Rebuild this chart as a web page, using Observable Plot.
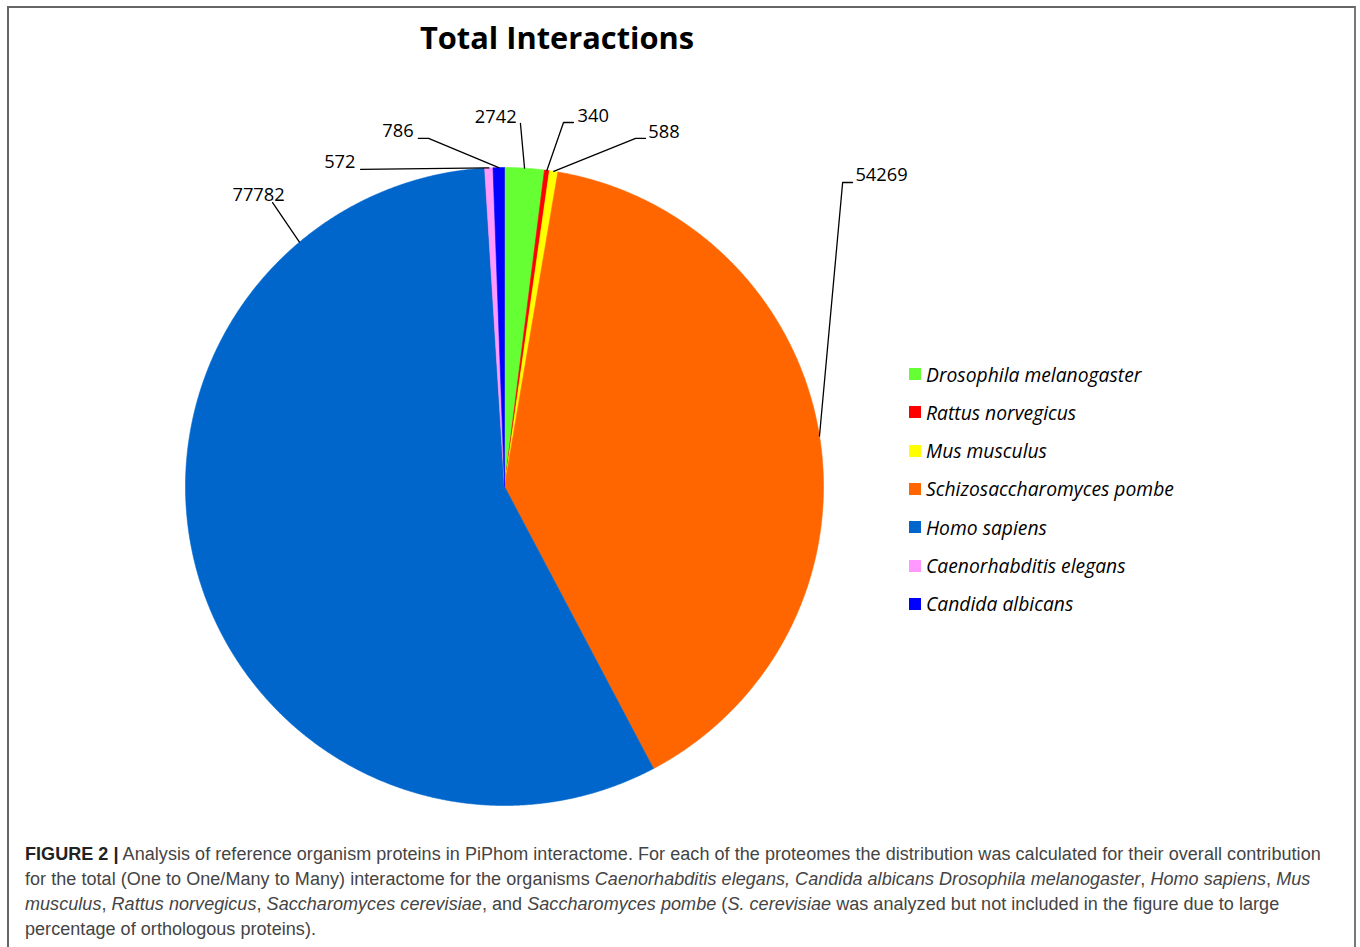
<!DOCTYPE html>
<html>
<head>
<meta charset="utf-8">
<script src="https://cdn.jsdelivr.net/npm/d3@7"></script>
<script src="https://cdn.jsdelivr.net/npm/@observablehq/plot@0.6"></script>
<style>
  html, body { margin: 0; padding: 0; background: #fff; }
  #page { position: relative; width: 1360px; height: 947px; overflow: hidden; background: #fff; }
  #chart { position: absolute; left: 0; top: 0; }
  #frame { position: absolute; left: 7px; top: 6px; width: 1345px; height: 960px;
           border-left: 2px solid #666; border-top: 2px solid #666; border-right: 2px solid #777; pointer-events: none; }
  #title { position: absolute; left: 257px; width: 600px; top: 16px; text-align: center;
           font-family: "Open Sans", sans-serif; font-weight: 700; font-size: 30.8px; color: #000; }
  #legend { position: absolute; left: 909px; top: 361px; font-family: "Open Sans", sans-serif;
            font-style: italic; font-size: 19.3px; color: #000; }
  .lg { position: absolute; left: 0; height: 26px; white-space: nowrap; display: flex; align-items: center; }
  .sw { width: 12px; height: 12px; margin-right: 5px; }
  #caption { position: absolute; left: 25px; top: 842px; width: 1320px; font-family: "Liberation Sans", Arial, sans-serif;
             font-size: 18px; letter-spacing: 0.05px; line-height: 25px; color: #444; white-space: nowrap; }
  #caption b { color: #222; }
</style>
</head>
<body>
<div id="page">
  <div id="chart"></div>
  <div id="title">Total Interactions</div>
  <div id="legend"></div>
  <div id="caption"></div>
  <div id="frame"></div>
</div>
<script>
// ---- data ----
const species = ["Drosophila melanogaster", "Rattus norvegicus", "Mus musculus",
  "Schizosaccharomyces pombe", "Homo sapiens", "Caenorhabditis elegans", "Candida albicans"];
const interactions = [2742, 340, 588, 54269, 77782, 572, 786];
const colors = ["#66FF33", "#FF0000", "#FFFF00", "#FF6600", "#0066CC", "#FF99FF", "#0000FF"];

// ---- label layout (in pie-radius units, centre = 0,0, y up) ----
const labelX = [0.038, 0.229, 0.451, 1.100, -0.771, -0.467, -0.285];
const labelY = [1.157, 1.160, 1.110, 0.975, 0.912, 1.016, 1.113];
const labelAnchor = ["end", "start", "start", "start", "middle", "end", "end"];
const leaderPoints = [
  [[0.050, 1.138]],
  [[0.216, 1.141], [0.185, 1.141]],
  [[0.442, 1.091], [0.411, 1.091]],
  [[1.091, 0.953], [1.060, 0.953]],
  [[-0.727, 0.890]],
  [[-0.451, 0.994]],
  [[-0.270, 1.091], [-0.238, 1.091]]
];
const leaderAngleDeg = [null, null, null, null, 320, null, null];

// ---- geometry layout ----
const W = 1360, H = 830, CX = 504, CY = 486, R = 319;

const arcs = d3.pie().sort(null).value(d => d)(interactions);
const slicePts = arcs.flatMap((a, i) => {
  const s = species[i];
  const n = Math.max(4, Math.ceil((a.endAngle - a.startAngle) / 0.004));
  const pts = [{s, x: 0, y: 0}];
  for (let k = 0; k <= n; k++) {
    const t = a.startAngle + (a.endAngle - a.startAngle) * k / n;
    pts.push({s, x: Math.sin(t), y: Math.cos(t)});
  }
  pts.push({s, x: 0, y: 0});
  return pts;
});

const leaders = arcs.flatMap((a, i) => {
  const ang = leaderAngleDeg[i] != null ? leaderAngleDeg[i] * Math.PI / 180 : (a.startAngle + a.endAngle) / 2;
  const pts = leaderPoints[i].map(([x, y]) => ({id: i, x, y}));
  pts.push({id: i, x: Math.sin(ang), y: Math.cos(ang)});
  return pts;
});

const labels = interactions.map((v, i) => ({text: String(v), x: labelX[i], y: labelY[i], anchor: labelAnchor[i]}));

const textOpts = a => ({x: "x", y: "y", text: "text", filter: d => d.anchor === a, textAnchor: a,
  fontSize: 18.3, fontFamily: "Open Sans", fill: "#000"});

const chart = Plot.plot({
  width: W, height: H, margin: 0,
  style: {background: "transparent", overflow: "visible"},
  x: {domain: [-CX / R, (W - CX) / R], range: [0, W], axis: null},
  y: {domain: [-(H - CY) / R, CY / R], range: [H, 0], axis: null},
  color: {domain: species, range: colors},
  marks: [
    Plot.line(slicePts, {x: "x", y: "y", z: "s", fill: "s", stroke: "s", strokeWidth: 0.6, curve: "linear"}),
    Plot.line(leaders, {x: "x", y: "y", z: "id", stroke: "#000", strokeWidth: 1.3, curve: "linear"}),
    Plot.text(labels, textOpts("start")),
    Plot.text(labels, textOpts("end")),
    Plot.text(labels, textOpts("middle"))
  ]
});
document.getElementById("chart").appendChild(chart);

// ---- legend ----
const legend = document.getElementById("legend");
species.forEach((s, i) => {
  const row = document.createElement("div");
  row.className = "lg";
  row.style.top = (i * 38.33) + "px";
  const sw = document.createElement("span");
  sw.className = "sw";
  sw.style.background = colors[i];
  const tx = document.createElement("span");
  tx.textContent = s;
  row.appendChild(sw); row.appendChild(tx);
  legend.appendChild(row);
});

// ---- caption ----
const captionLines = [
  "<b>FIGURE 2 |</b> Analysis of reference organism proteins in PiPhom interactome. For each of the proteomes the distribution was calculated for their overall contribution",
  "for the total (One to One/Many to Many) interactome for the organisms <i>Caenorhabditis elegans, Candida albicans Drosophila melanogaster</i>, <i>Homo sapiens</i>, <i>Mus</i>",
  "<i>musculus</i>, <i>Rattus norvegicus</i>, <i>Saccharomyces cerevisiae</i>, and <i>Saccharomyces pombe</i> (<i>S. cerevisiae</i> was analyzed but not included in the figure due to large",
  "percentage of orthologous proteins)."
];
document.getElementById("caption").innerHTML = captionLines.map(l => "<div>" + l + "</div>").join("");
</script>
</body>
</html>
